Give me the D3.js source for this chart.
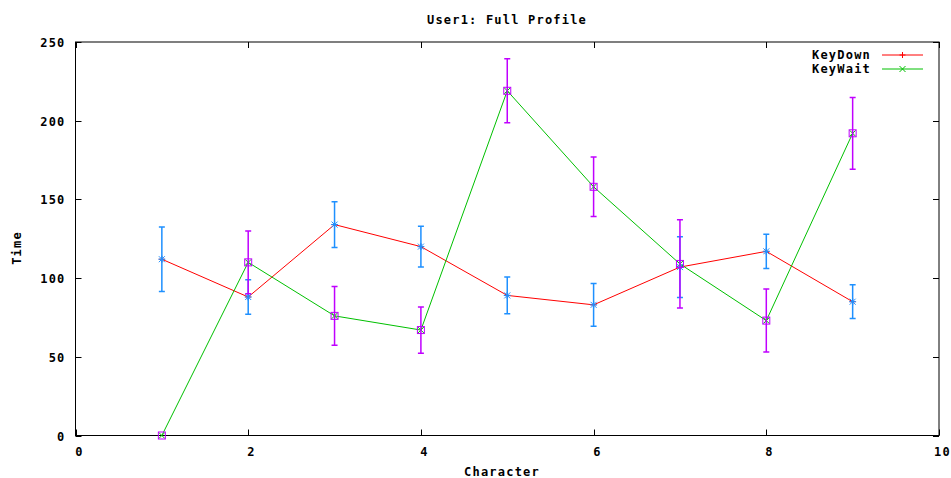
<!DOCTYPE html>
<html><head><meta charset="utf-8">
<script src="https://cdn.jsdelivr.net/npm/d3@7"></script>
<style>
body{margin:0;background:#fff;}
text{font-family:"DejaVu Sans Mono",monospace;font-size:12px;font-weight:bold;letter-spacing:1.2px;fill:#000;}
</style></head>
<body>
<script>
const title = "User1: Full Profile";
const xLabel = "Character";
const yLabel = "Time";
const characters = [1,2,3,4,5,6,7,8,9];
const keyDown    = [112, 88, 134, 120, 89, 83, 107, 117, 85];
const keyDownErr = [20.5, 11, 14.5, 13, 11.7, 13.6, 19.3, 10.9, 10.7];
const keyWait    = [0, 110, 76, 67, 219, 158, 109, 73, 192];
const keyWaitErr = [0, 20, 18.6, 14.7, 20.3, 18.9, 28, 20, 22.8];
const xTicks = [0,2,4,6,8,10];
const yTicks = [0,50,100,150,200,250];

const W=951,H=478;
const m={left:75.5,right:939,top:42,bottom:435.5};
const svg=d3.select("body").append("svg").attr("width",W).attr("height",H);
const x=d3.scaleLinear().domain([0,10]).range([m.left,m.right]);
const y=d3.scaleLinear().domain([0,250]).range([m.bottom,m.top]);

svg.append("rect").attr("x",m.left).attr("y",m.top).attr("width",m.right-m.left).attr("height",m.bottom-m.top)
  .attr("fill","none").attr("stroke","#000").attr("stroke-width",1);

const tl=6;
xTicks.forEach(t=>{
  const px=Math.round(x(t))+0.5;
  svg.append("line").attr("x1",px).attr("x2",px).attr("y1",m.bottom).attr("y2",m.bottom-tl).attr("stroke","#000");
  svg.append("line").attr("x1",px).attr("x2",px).attr("y1",m.top).attr("y2",m.top+tl).attr("stroke","#000");
  svg.append("text").attr("x",px+3).attr("y",m.bottom+20).attr("text-anchor","middle").text(t);
});
yTicks.forEach(t=>{
  const py=Math.round(y(t))+0.5;
  svg.append("line").attr("x1",m.left).attr("x2",m.left+tl).attr("y1",py).attr("y2",py).attr("stroke","#000");
  svg.append("line").attr("x1",m.right).attr("x2",m.right-tl).attr("y1",py).attr("y2",py).attr("stroke","#000");
  svg.append("text").attr("x",m.left-10).attr("y",py+4).attr("text-anchor","end").text(t);
});

svg.append("text").attr("x",507).attr("y",24).attr("text-anchor","middle").text(title);
svg.append("text").attr("x",502).attr("y",476).attr("text-anchor","middle").text(xLabel);
svg.append("text").attr("transform","translate(21,248) rotate(-90)").attr("text-anchor","middle").text(yLabel);

const line=d3.line().x(d=>x(d[0])).y(d=>y(d[1]));
const red="#ff0000",green="#00c000",blue="#1e90ff",mag="#c000ff";

function plus(g,px,py,c,s){g.append("path").attr("d",`M${px-s},${py}H${px+s}M${px},${py-s}V${py+s}`).attr("stroke",c).attr("fill","none");}
function cross(g,px,py,c,s){g.append("path").attr("d",`M${px-s},${py-s}L${px+s},${py+s}M${px-s},${py+s}L${px+s},${py-s}`).attr("stroke",c).attr("fill","none");}

const kd=characters.map((c,i)=>[c,keyDown[i]]);
const kw=characters.map((c,i)=>[c,keyWait[i]]);
svg.append("path").attr("d",line(kd)).attr("stroke",red).attr("fill","none");
svg.append("path").attr("d",line(kw)).attr("stroke",green).attr("fill","none");
kd.forEach(d=>plus(svg,x(d[0]),y(d[1]),red,3));
kw.forEach(d=>cross(svg,x(d[0]),y(d[1]),green,3));

function errbars(vals,errs,c,kind){
  characters.forEach((cx,i)=>{
    const px=x(cx),py=y(vals[i]);
    if(errs[i]>0){
      const y1=y(vals[i]+errs[i]),y2=y(vals[i]-errs[i]);
      svg.append("path").attr("d",`M${px},${y1}V${y2}M${px-3},${y1}H${px+3}M${px-3},${y2}H${px+3}`)
        .attr("stroke",c).attr("stroke-width",1.5).attr("fill","none");
    }
    if(kind==="star"){plus(svg,px,py,c,3.5);cross(svg,px,py,c,3);}
    else svg.append("rect").attr("x",px-3.5).attr("y",py-3.5).attr("width",7).attr("height",7).attr("fill","none").attr("stroke",c);
  });
}
errbars(keyDown,keyDownErr,blue,"star");
errbars(keyWait,keyWaitErr,mag,"box");

const leg=[["KeyDown",red,"plus",55],["KeyWait",green,"cross",69]];
leg.forEach(([name,c,k,ly])=>{
  svg.append("text").attr("x",871).attr("y",ly+4).attr("text-anchor","end").text(name);
  svg.append("line").attr("x1",882).attr("x2",923).attr("y1",ly).attr("y2",ly).attr("stroke",c);
  if(k==="plus")plus(svg,902.5,ly,c,3);else cross(svg,902.5,ly,c,3);
});
</script>
</body></html>
